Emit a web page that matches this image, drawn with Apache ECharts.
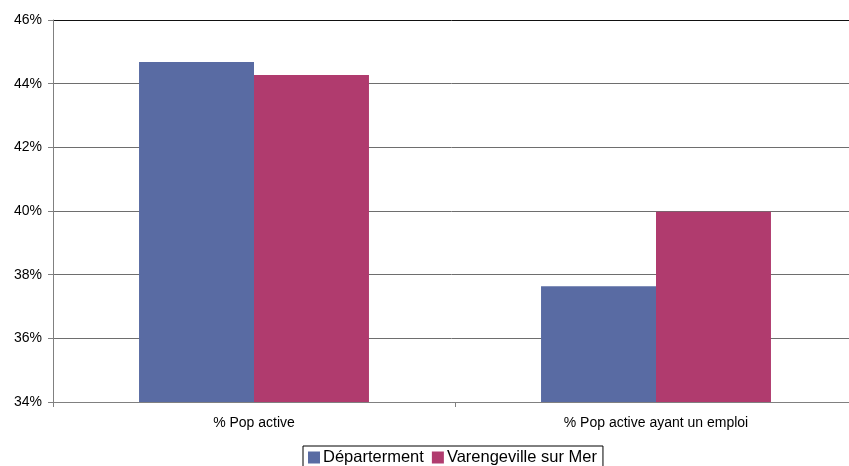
<!DOCTYPE html>
<html>
<head>
<meta charset="utf-8">
<script src="https://cdn.jsdelivr.net/npm/echarts@6/dist/echarts.min.js"></script>
<style>
  html, body { margin: 0; padding: 0; background: #fff; overflow: hidden; }
  #chart { width: 849px; height: 466px; }
</style>
</head>
<body>
<div id="chart"></div>
<script>
// Categories and series values (percent)
const categories = ['% Pop active', '% Pop active ayant un emploi'];
const departement = [44.68, 37.64];
const varengeville = [44.27, 39.98];
const seriesNames = ['Départerment', 'Varengeville sur Mer'];

const chart = echarts.init(document.getElementById('chart'));
const font = '"Liberation Sans", Arial, sans-serif';

chart.setOption({
  animation: false,
  textStyle: { fontFamily: font },
  // plot area runs slightly past the right edge of the canvas
  grid: { left: 53, width: 804, top: 20, bottom: 64, containLabel: false, outerBoundsMode: 'none' },
  legend: {
    bottom: -6,
    left: 303,
    itemWidth: 12,
    itemHeight: 12,
    itemGap: 8,
    icon: 'rect',
    borderColor: '#000',
    borderWidth: 1,
    padding: [3, 6, 6, 5],
    textStyle: { fontFamily: font, fontSize: 16.5, color: '#000', padding: [0, 0, 0, -2] },
    data: seriesNames
  },
  xAxis: {
    type: 'category',
    data: categories,
    axisLine: { lineStyle: { color: '#808080', width: 1 } },
    axisTick: { show: true, length: 5, lineStyle: { color: '#808080' } },
    axisLabel: { fontFamily: font, fontSize: 14, color: '#000', margin: 14 }
  },
  yAxis: {
    type: 'value',
    min: 34,
    max: 46,
    interval: 2,
    axisLine: { show: true, lineStyle: { color: '#808080', width: 1 } },
    axisTick: { show: true, length: 5, lineStyle: { color: '#808080' } },
    axisLabel: {
      fontFamily: font, fontSize: 14, color: '#000', margin: 11,
      formatter: v => v + '%'
    },
    splitLine: {
      lineStyle: {
        color: ['#808080', '#6e6e6e', '#6e6e6e', '#6e6e6e', '#6e6e6e', '#6e6e6e', '#111'],
        width: 1
      }
    }
  },
  series: [
    {
      name: seriesNames[0],
      type: 'bar',
      data: departement,
      barGap: '0%',
      barCategoryGap: '42.8%',
      itemStyle: { color: '#596BA3' }
    },
    {
      name: seriesNames[1],
      type: 'bar',
      data: varengeville,
      itemStyle: { color: '#B03B6E' }
    }
  ]
});
</script>
</body>
</html>
